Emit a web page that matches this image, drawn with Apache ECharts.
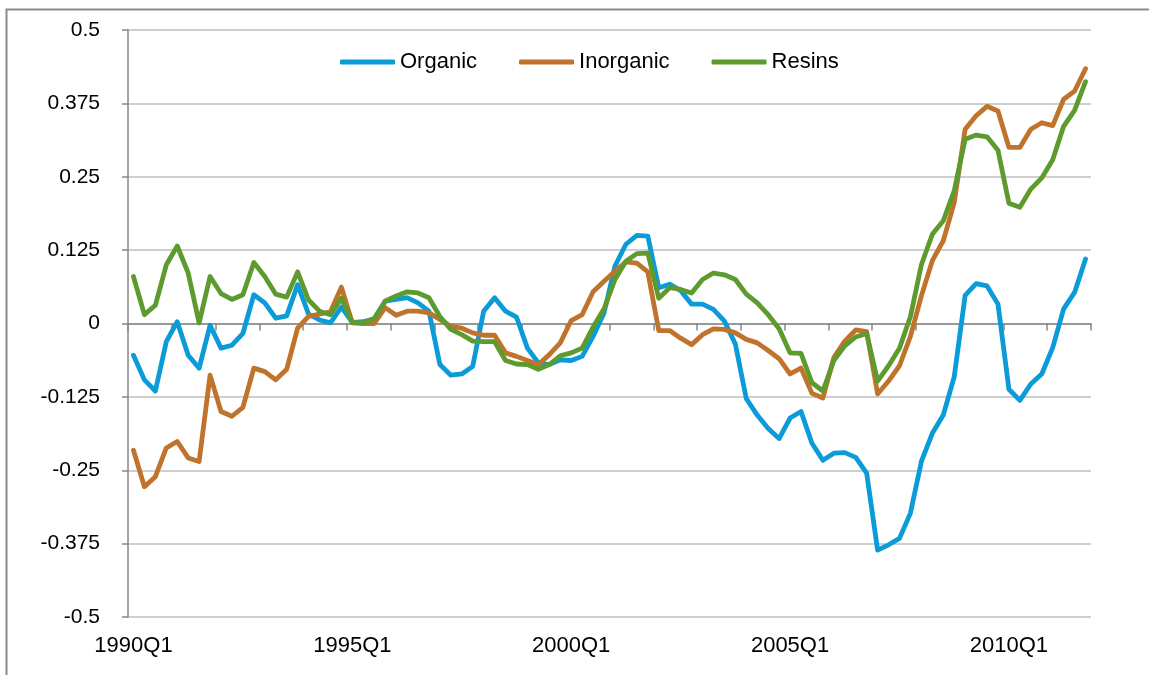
<!DOCTYPE html>
<html>
<head>
<meta charset="utf-8">
<script src="https://cdn.jsdelivr.net/npm/echarts@6/dist/echarts.min.js"></script>
<style>
  html, body { margin: 0; padding: 0; background: #fff; }
  #chart { width: 1149px; height: 675px; }
</style>
</head>
<body>
<div id="chart"></div>
<script>
// quarters 1990Q1 .. 2011Q4
const quarters = [];
for (let y = 1990; y <= 2011; y++) {
  for (let q = 1; q <= 4; q++) quarters.push(y + "Q" + q);
}

const organic = [
  -0.054, -0.096, -0.115, -0.031, 0.003, -0.054, -0.076, -0.003, -0.042, -0.037,
  -0.017, 0.049, 0.035, 0.009, 0.013, 0.066, 0.016, 0.006, 0.001, 0.028,
  0.002, 0.003, 0.008, 0.038, 0.041, 0.044, 0.035, 0.021, -0.070, -0.088,
  -0.086, -0.073, 0.021, 0.044, 0.021, 0.011, -0.042, -0.067, -0.070, -0.062,
  -0.063, -0.056, -0.022, 0.018, 0.098, 0.135, 0.150, 0.149, 0.061, 0.067,
  0.056, 0.033, 0.033, 0.024, 0.004, -0.035, -0.128, -0.156, -0.179, -0.196,
  -0.161, -0.150, -0.204, -0.233, -0.221, -0.220, -0.228, -0.255, -0.386, -0.377,
  -0.366, -0.323, -0.235, -0.187, -0.156, -0.091, 0.048, 0.068, 0.064, 0.033,
  -0.112, -0.131, -0.103, -0.086, -0.041, 0.025, 0.053, 0.110
];

const inorganic = [
  -0.216, -0.278, -0.261, -0.212, -0.201, -0.229, -0.235, -0.088, -0.150, -0.158,
  -0.143, -0.076, -0.082, -0.096, -0.078, -0.008, 0.012, 0.016, 0.020, 0.062,
  0.001, 0.000, 0.000, 0.027, 0.014, 0.021, 0.021, 0.018, 0.007, -0.005,
  -0.008, -0.016, -0.020, -0.020, -0.050, -0.056, -0.063, -0.070, -0.053, -0.033,
  0.005, 0.015, 0.054, 0.072, 0.089, 0.105, 0.103, 0.088, -0.012, -0.012,
  -0.025, -0.036, -0.019, -0.009, -0.010, -0.016, -0.027, -0.033, -0.046, -0.060,
  -0.086, -0.076, -0.119, -0.127, -0.058, -0.030, -0.011, -0.014, -0.120, -0.098,
  -0.072, -0.022, 0.047, 0.107, 0.141, 0.206, 0.331, 0.354, 0.370, 0.362,
  0.300, 0.300, 0.331, 0.342, 0.337, 0.382, 0.396, 0.434
];

const resins = [
  0.080, 0.015, 0.031, 0.100, 0.132, 0.086, 0.001, 0.080, 0.051, 0.041,
  0.049, 0.104, 0.080, 0.050, 0.045, 0.088, 0.040, 0.021, 0.015, 0.043,
  0.002, 0.001, 0.0085, 0.038, 0.047, 0.054, 0.052, 0.044, 0.012, -0.010,
  -0.019, -0.030, -0.031, -0.031, -0.063, -0.069, -0.070, -0.078, -0.070, -0.055,
  -0.050, -0.042, -0.006, 0.025, 0.075, 0.106, 0.119, 0.120, 0.043, 0.061,
  0.058, 0.052, 0.075, 0.086, 0.083, 0.075, 0.050, 0.035, 0.015, -0.009,
  -0.050, -0.051, -0.101, -0.115, -0.063, -0.038, -0.023, -0.017, -0.098, -0.072,
  -0.042, 0.012, 0.100, 0.152, 0.175, 0.226, 0.314, 0.321, 0.318, 0.295,
  0.205, 0.198, 0.229, 0.248, 0.279, 0.336, 0.363, 0.412
];

const COLORS = { organic: "#0A9BD8", inorganic: "#C0732B", resins: "#5E9B2F" };
const FONT = "'Liberation Sans', Arial, sans-serif";

const chart = echarts.init(document.getElementById("chart"));

const lineSeries = (name, data, color) => ({
  name,
  type: "line",
  data,
  xAxisIndex: 0,
  showSymbol: false,
  symbol: "none",
  color,
  lineStyle: { width: 4.8, color, cap: "round", join: "round" },
});

chart.setOption({
  animation: false,
  grid: { left: 128, right: 58, top: 30, bottom: 58 },
  graphic: [
    {
      type: "rect",
      left: 4,
      top: 7,
      shape: { width: 1200, height: 720 },
      style: { fill: "none", stroke: "#8a8a8a", lineWidth: 2 },
      silent: true,
    },
  ],
  legend: {
    left: 340,
    top: 51,
    padding: 0,
    icon: "roundRect",
    itemWidth: 55,
    itemHeight: 5,
    itemGap: 42,
    textStyle: { fontFamily: FONT, fontSize: 22, color: "#000" },
    data: ["Organic", "Inorganic", "Resins"],
  },
  xAxis: [
    {
      type: "category",
      data: quarters,
      boundaryGap: true,
      axisLine: { onZero: true, lineStyle: { color: "#868686", width: 1.5 } },
      axisTick: { show: true, interval: 3, length: 7, lineStyle: { color: "#868686", width: 1.5 } },
      axisLabel: { show: false },
      splitLine: { show: false },
    },
    {
      type: "category",
      data: quarters,
      position: "bottom",
      boundaryGap: true,
      axisLine: { show: false, onZero: false },
      axisTick: { show: false },
      axisLabel: {
        interval: 19,
        margin: 18,
        fontFamily: FONT,
        fontSize: 22,
        color: "#000",
      },
      splitLine: { show: false },
    },
  ],
  yAxis: {
    type: "value",
    min: -0.5,
    max: 0.5,
    interval: 0.125,
    axisLine: { show: true, lineStyle: { color: "#868686", width: 1.5 } },
    axisTick: { show: true, length: 6, lineStyle: { color: "#868686", width: 1.5 } },
    axisLabel: {
      margin: 28,
      fontFamily: FONT,
      fontSize: 21,
      color: "#000",
      formatter: (v) => String(Math.round(v * 1000) / 1000),
    },
    splitLine: { lineStyle: { color: "#BFBFBF", width: 1.5 } },
  },
  series: [
    lineSeries("Organic", organic, COLORS.organic),
    lineSeries("Inorganic", inorganic, COLORS.inorganic),
    lineSeries("Resins", resins, COLORS.resins),
  ],
});

window.addEventListener("resize", () => chart.resize());
</script>
</body>
</html>
